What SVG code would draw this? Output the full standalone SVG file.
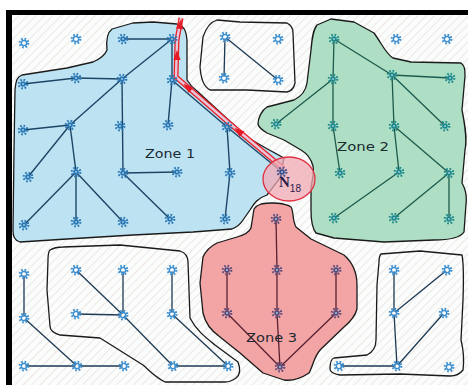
<svg xmlns="http://www.w3.org/2000/svg" xmlns:xlink="http://www.w3.org/1999/xlink" width="468" height="385" viewBox="0 0 468 385">
<style>
.zone{stroke:#1a1a1a;stroke-width:1.3;stroke-linejoin:round}
.outl{fill:none;stroke:#1a1a1a;stroke-width:1.3;stroke-linejoin:round}
.e1 line{stroke:#1c4565;stroke-width:1.4}
.e2 line{stroke:#1d5a4c;stroke-width:1.3}
.e3 line{stroke:#5a2030;stroke-width:1.3}
.e0 line{stroke:#1d3a55;stroke-width:1.3}
.lbl{font-family:"DejaVu Sans",sans-serif;font-size:13px;fill:#1a2a30}
.b{color:#2a78b5}.o{color:#3b8fd0}.t{color:#1f8a8c}.p{color:#5b4c7c}
</style>
<defs>
<pattern id="hatch" width="6" height="6" patternUnits="userSpaceOnUse" patternTransform="rotate(45)">
<rect width="6" height="6" fill="#fbfcfc"/><line x1="0" y1="0" x2="0" y2="6" stroke="#e9e5df" stroke-width="1.6"/>
</pattern>
<g id="gs"><circle r="4.3" fill="none" stroke="currentColor" stroke-width="2.2" stroke-dasharray="1.6 1.78"/><circle r="2.8" fill="currentColor"/><circle r="1" fill="#9cc8e6"/></g>
<g id="gh"><circle r="4.3" fill="none" stroke="currentColor" stroke-width="2.2" stroke-dasharray="1.6 1.78"/><circle r="2.6" fill="none" stroke="currentColor" stroke-width="1.5"/><circle r="1.6" fill="#ffffff"/></g>
<path id="ah" d="M2,0 L-8,-3.6 L-8,3.6 Z" fill="#e41a24"/>
</defs>

<rect x="0" y="0" width="468" height="385" fill="#ffffff"/>
<rect x="12" y="15" width="456" height="370" fill="url(#hatch)"/>
<g id="frame"><rect x="6" y="10" width="462" height="5" fill="#000"/><rect x="6" y="10" width="6" height="375" fill="#000"/></g>

<g id="zone1"><path class="zone" fill="#bde3f3" d="M107,50 C106,40 108,32 112,29 L133,23 L153,22 L177,24 C184,26 186,30 187,40 L187,80 C190,85 193,88 197,91 L247,137 C258,144 266,148 273,152 L284,158 L280,178 L267,195 C258,198 254,203 250,210 L243,220 C240,225 237,227 232,229 L193,232 L133,235 L67,239 L20,242 C14,240 13,236 13,230 L14,150 L15,90 C16,80 17,77 22,75 L67,68 L93,62 C100,59 105,55 107,50 Z"/></g>
<g id="zone2"><path class="zone" fill="#aedfc4" d="M317,25 L331,19 L354,22 L374,33 C382,44 386,54 393,58 L411,62 L461,63 C465,66 465,70 465,76 L462,110 C466,130 467,140 465,150 L462,183 C466,190 467,196 466,204 L464,232 C460,238 450,240 434,240 L384,242 L334,238 L316,233 C312,228 311,220 311,210 L311,187 C313,178 314,172 313,166 C311,158 306,153 301,150 L284,140 L267,133 C262,130 259,128 258,124 C258,118 262,110 267,107 L294,100 C302,96 306,90 307,83 L311,50 C312,38 313,30 317,25 Z"/></g>
<g id="zone3"><path class="zone" fill="#f3a5a5" d="M261,204 C272,202 285,203 291,207 C294,212 292,220 296,227 L311,239 L344,255 C352,262 357,272 357,285 L357,309 C355,317 350,322 344,327 L321,349 C314,356 313,366 309,373 C300,379 292,381 284,380 L263,373 L240,353 L220,337 C210,330 205,322 203,313 L200,283 L203,257 C206,250 211,246 217,243 L237,237 C244,235 249,233 251,228 L254,209 C256,206 258,205 261,204 Z"/></g>
<g id="group-top"><path class="outl" d="M217,20 L240,22 L287,23 C291,25 293,28 293,33 L295,83 C294,88 291,91 287,92 L247,90 L210,90 C203,86 201,78 200,67 L203,37 C206,28 210,22 217,20 Z"/></g>
<g id="group-bl"><path class="outl" d="M50,250 C55,247 58,247 63,247 L120,245 L180,251 C186,253 188,257 188,262 L190,318 C196,330 205,337 215,345 L238,362 C241,370 240,375 236,378 C232,381 229,382 225,382 L165,382 C155,377 150,371 143,365 L100,338 L60,335 C53,333 50,330 50,326 L47,290 L48,260 C48,255 48,252 50,250 Z"/></g>
<g id="group-br"><path class="outl" d="M381,254 L420,251 L462,255 C463,260 464,270 463,300 L461,340 C464,352 464,362 463,370 C460,374 456,376 450,376 L400,374 L340,375 C334,374 330,372 330,369 C330,363 331,359 334,358 L367,355 C373,352 376,346 376,340 L377,285 L379,262 C379,258 379,256 381,254 Z"/></g>

<g id="connectors">
<g class="e1">
<line x1="123" y1="39" x2="172" y2="39"/><line x1="172" y1="39" x2="172" y2="80"/><line x1="172" y1="39" x2="122" y2="79"/>
<line x1="122" y1="79" x2="70" y2="125"/><line x1="70" y1="125" x2="28" y2="177"/><line x1="23" y1="84" x2="76" y2="78"/>
<line x1="76" y1="78" x2="122" y2="79"/><line x1="122" y1="79" x2="123" y2="173"/><line x1="123" y1="173" x2="177" y2="172"/>
<line x1="172" y1="80" x2="168" y2="125"/><line x1="23" y1="130" x2="70" y2="125"/><line x1="70" y1="125" x2="76" y2="172"/>
<line x1="76" y1="172" x2="24" y2="225"/><line x1="76" y1="172" x2="76" y2="222"/><line x1="76" y1="172" x2="123" y2="222"/>
<line x1="123" y1="173" x2="170" y2="219"/><line x1="227" y1="127" x2="230" y2="173"/><line x1="230" y1="173" x2="225" y2="219"/>
<line x1="172" y1="80" x2="227" y2="127"/><line x1="227" y1="127" x2="282" y2="172"/>
</g>
<g class="e0">
<line x1="225" y1="37" x2="224" y2="78"/><line x1="225" y1="37" x2="278" y2="80"/>
<line x1="24" y1="274" x2="24" y2="318"/><line x1="24" y1="318" x2="77" y2="366"/><line x1="24" y1="366" x2="77" y2="366"/>
<line x1="77" y1="366" x2="124" y2="366"/><line x1="76" y1="270" x2="123" y2="315"/><line x1="123" y1="315" x2="173" y2="366"/>
<line x1="123" y1="270" x2="123" y2="315"/><line x1="76" y1="314" x2="123" y2="315"/><line x1="172" y1="270" x2="172" y2="314"/>
<line x1="172" y1="314" x2="228" y2="366"/><line x1="173" y1="366" x2="228" y2="366"/>
<line x1="394" y1="270" x2="394" y2="313"/><line x1="394" y1="313" x2="397" y2="366"/><line x1="447" y1="270" x2="394" y2="313"/>
<line x1="444" y1="313" x2="397" y2="366"/><line x1="339" y1="366" x2="397" y2="366"/>
</g>
<g class="e2">
<line x1="334" y1="39" x2="333" y2="79"/><line x1="333" y1="79" x2="333" y2="126"/><line x1="333" y1="126" x2="340" y2="173"/>
<line x1="333" y1="79" x2="276" y2="124"/><line x1="334" y1="39" x2="392" y2="75"/><line x1="392" y1="75" x2="450" y2="78"/>
<line x1="392" y1="75" x2="394" y2="126"/><line x1="394" y1="126" x2="399" y2="172"/><line x1="392" y1="75" x2="445" y2="126"/>
<line x1="394" y1="126" x2="449" y2="173"/><line x1="399" y1="172" x2="334" y2="218"/><line x1="449" y1="173" x2="394" y2="218"/>
<line x1="449" y1="173" x2="449" y2="219"/>
</g>
<g class="e3">
<line x1="276" y1="219" x2="277" y2="270"/><line x1="277" y1="270" x2="277" y2="313"/><line x1="277" y1="313" x2="280" y2="367"/>
<line x1="227" y1="270" x2="227" y2="313"/><line x1="336" y1="270" x2="336" y2="313"/><line x1="227" y1="313" x2="280" y2="367"/>
<line x1="336" y1="313" x2="280" y2="367"/>
</g>
<g id="route">
<polyline points="284,169 229,123 176,77 177,40 181,18" fill="none" stroke="#e8202a" stroke-width="5" stroke-linejoin="round"/>
<polyline points="284,169 229,123 176,77 177,40 181,18" fill="none" stroke="#e6c6d8" stroke-width="2.4" stroke-linejoin="round"/>
<use href="#ah" transform="translate(236,129) rotate(220)"/>
<use href="#ah" transform="translate(185,85) rotate(220)"/>
<use href="#ah" transform="translate(177,52) rotate(-90)"/>
<use href="#ah" transform="translate(181,21) rotate(-79)"/>
</g>
</g>

<g id="n18-area"><ellipse cx="289" cy="179" rx="26" ry="22" fill="#f2aab4" fill-opacity="0.75" stroke="#e03040" stroke-width="1.3"/></g>

<g id="nodes">
<g id="z1-nodes" class="b">
<use href="#gs" x="123" y="39"/><use href="#gs" x="172" y="39"/><use href="#gs" x="23" y="84"/><use href="#gs" x="76" y="78"/>
<use href="#gs" x="122" y="79"/><use href="#gs" x="172" y="80"/><use href="#gs" x="23" y="130"/><use href="#gs" x="70" y="125"/>
<use href="#gs" x="120" y="126"/><use href="#gs" x="168" y="125"/><use href="#gs" x="227" y="127"/><use href="#gs" x="28" y="177"/>
<use href="#gs" x="76" y="172"/><use href="#gs" x="123" y="173"/><use href="#gs" x="177" y="172"/><use href="#gs" x="230" y="173"/>
<use href="#gs" x="24" y="225"/><use href="#gs" x="76" y="222"/><use href="#gs" x="123" y="222"/><use href="#gs" x="170" y="219"/>
<use href="#gs" x="225" y="219"/>
</g>
<g id="free-nodes" class="o">
<use href="#gh" x="24" y="43"/><use href="#gh" x="76" y="39"/><use href="#gh" x="225" y="37"/><use href="#gh" x="278" y="39"/>
<use href="#gh" x="224" y="78"/><use href="#gh" x="278" y="80"/><use href="#gh" x="396" y="39"/><use href="#gh" x="447" y="39"/>
<use href="#gh" x="24" y="274"/><use href="#gh" x="76" y="270"/><use href="#gh" x="123" y="270"/><use href="#gh" x="172" y="270"/>
<use href="#gh" x="24" y="318"/><use href="#gh" x="76" y="314"/><use href="#gh" x="123" y="315"/><use href="#gh" x="172" y="314"/>
<use href="#gh" x="24" y="366"/><use href="#gh" x="77" y="366"/><use href="#gh" x="124" y="366"/><use href="#gh" x="173" y="366"/>
<use href="#gh" x="228" y="366"/><use href="#gh" x="394" y="270"/><use href="#gh" x="447" y="270"/><use href="#gh" x="394" y="313"/>
<use href="#gh" x="444" y="313"/><use href="#gh" x="339" y="366"/><use href="#gh" x="397" y="366"/><use href="#gh" x="449" y="367"/>
</g>
<g id="z2-nodes" class="t">
<use href="#gs" x="334" y="39"/><use href="#gs" x="333" y="79"/><use href="#gs" x="392" y="75"/><use href="#gs" x="450" y="78"/>
<use href="#gs" x="276" y="124"/><use href="#gs" x="333" y="126"/><use href="#gs" x="394" y="126"/><use href="#gs" x="445" y="126"/>
<use href="#gs" x="340" y="173"/><use href="#gs" x="399" y="172"/><use href="#gs" x="449" y="173"/><use href="#gs" x="334" y="218"/>
<use href="#gs" x="394" y="218"/><use href="#gs" x="449" y="219"/>
</g>
<g id="z3-nodes" class="p">
<use href="#gs" x="276" y="219"/><use href="#gs" x="227" y="270"/><use href="#gs" x="277" y="270"/><use href="#gs" x="336" y="270"/>
<use href="#gs" x="227" y="313"/><use href="#gs" x="277" y="313"/><use href="#gs" x="336" y="313"/><use href="#gs" x="280" y="367"/>
</g>
<g id="n18"><use href="#gs" x="282" y="172" style="color:#3a4f8a"/>
<text x="279" y="187" font-family="Liberation Serif, serif" font-weight="bold" font-size="15" fill="#2a1a4a">N<tspan font-size="10" dy="5" font-family="Liberation Sans, sans-serif" font-weight="normal">18</tspan></text></g>
</g>

<g id="labels">
<text class="lbl" x="145" y="158" textLength="50" lengthAdjust="spacingAndGlyphs">Zone 1</text>
<text class="lbl" x="337" y="151" textLength="52" lengthAdjust="spacingAndGlyphs">Zone 2</text>
<text class="lbl" x="246" y="342" textLength="51" lengthAdjust="spacingAndGlyphs">Zone 3</text>
</g>
</svg>
